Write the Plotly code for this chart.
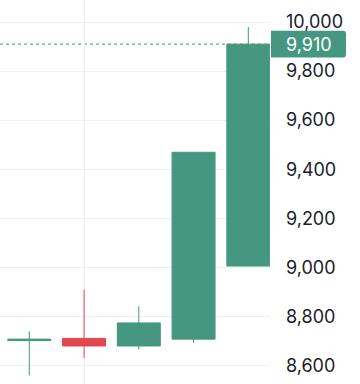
import plotly.graph_objects as go

x_idx = [0, 1, 2, 3, 4]
opens = [8701, 8710, 8679, 8707, 9005]
highs = [8739, 8909, 8841, 9469, 9980]
lows = [8559, 8630, 8664, 8691, 9005]
closes = [8707, 8679, 8773, 9469, 9910]
tick_vals = [8600, 8800, 9000, 9200, 9400, 9600, 9800, 10000]
tick_text = ["8,600", "8,800", "9,000", "9,200", "9,400", "9,600", "9,800", "10,000"]

UP = "#46977f"
DOWN = "#e0474f"
Y_RANGE = [8524, 10090]
X_RANGE = [-0.535, 4.396]

fig = go.Figure(go.Candlestick(
    x=x_idx, open=opens, high=highs, low=lows, close=closes,
    increasing=dict(line=dict(color=UP, width=1), fillcolor=UP),
    decreasing=dict(line=dict(color=DOWN, width=1), fillcolor=DOWN),
    whiskerwidth=0, hoverinfo="skip", showlegend=False,
))

last = closes[-1]
fig.add_shape(type="line", xref="paper", x0=0, x1=1, yref="y", y0=last, y1=last,
              line=dict(color=UP, width=1, dash="dot"), layer="below")

# price label box (paper coords derived from last close)
H = 384.0
W = 270.0
yp = (last - Y_RANGE[0]) / (Y_RANGE[1] - Y_RANGE[0])
hh = 13.4 / H
x0 = 1 + 1 / W
x1 = 1 + 76 / W
rx = 3 / W
ry = 3 / H
path = (f"M {x0},{yp+hh} L {x1-rx},{yp+hh} Q {x1},{yp+hh} {x1},{yp+hh-ry} "
        f"L {x1},{yp-hh+ry} Q {x1},{yp-hh} {x1-rx},{yp-hh} L {x0},{yp-hh} Z")
fig.add_shape(type="path", xref="paper", yref="paper", path=path,
              fillcolor=UP, line=dict(width=0))
fig.add_annotation(xref="paper", yref="y", x=1 + 14 / W, y=last, xanchor="left",
                   yanchor="middle", text=f"{last:,}", showarrow=False,
                   font=dict(family="Inter", size=18, color="white"))

fig.update_layout(
    width=360, height=384,
    margin=dict(l=0, r=90, t=0, b=0),
    paper_bgcolor="white", plot_bgcolor="white",
    boxgap=0.215, boxgroupgap=0,
    font=dict(family="Inter", size=18, color="#1c1c28"),
    hovermode=False,
    xaxis=dict(range=X_RANGE, rangeslider=dict(visible=False), tickvals=[1],
               showticklabels=False, showgrid=True, gridcolor="#f0f0f0",
               gridwidth=1, zeroline=False, showline=False, ticks=""),
    yaxis=dict(range=Y_RANGE, side="right", tickvals=tick_vals, ticktext=tick_text,
               showgrid=True, gridcolor="#f0f0f0", gridwidth=1, zeroline=False,
               showline=False, ticks="", ticklabelstandoff=15),
)

fig.write_html("out.html", config=dict(displayModeBar=False))
